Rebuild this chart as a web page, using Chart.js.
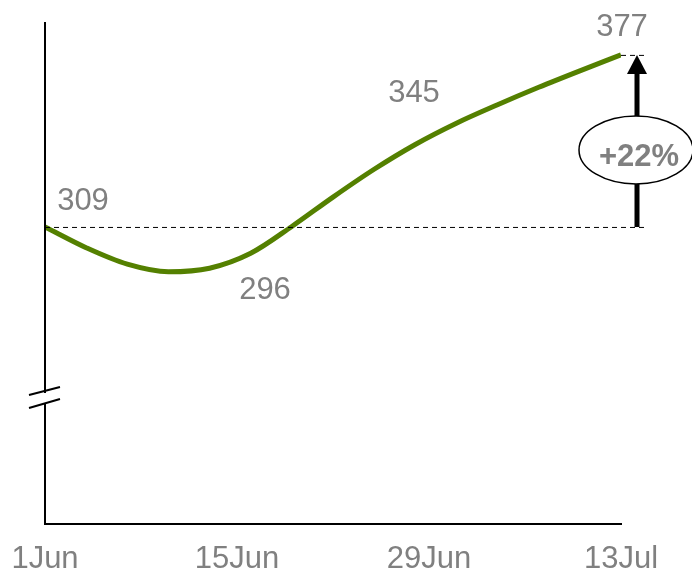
<!DOCTYPE html>
<html>
<head>
<meta charset="utf-8">
<script src="https://cdn.jsdelivr.net/npm/chart.js@4.4.1/dist/chart.umd.min.js"></script>
<style>
    html, body { margin: 0; padding: 0; background: #fff; }
    #wrap { width: 692px; height: 574px; }
</style>
</head>
<body>
<div id="wrap"><canvas id="lineChart" width="692" height="574"></canvas></div>
<script>
// days since 1 Jun and the value
const days   = [0, 3, 6, 9, 12, 15, 18, 21, 24, 27, 30, 33, 36, 39, 42];
const values = [309, 300.8, 294.3, 291.3, 292.7, 298.6, 309.2, 320.8, 331.8, 341.6, 350, 357.3, 364.2, 370.7, 377];

// tick labels on the x axis (every 14 days)
const tickDays   = [0, 14, 28, 42];
const tickLabels = ['1Jun', '15Jun', '29Jun', '13Jul'];

// labelled values
const labelDays   = [0, 14, 28, 42];
const labelValues = [309, 296, 345, 377];

const fontFamily = "'Liberation Sans', Arial, sans-serif";
const grey = '#808080';

// placement of each value label relative to its point (px)
const labelShift = [[38, -25], [28, 31], [-15, -42], [1, -27]];

const decorPlugin = {
    id: 'decor',
    afterDatasetsDraw(chart) {
        const ctx = chart.ctx;
        const xs = chart.scales.x, ys = chart.scales.y;
        const area = chart.chartArea;
        const startV = values[0], endV = values[values.length - 1];
        const yStart = ys.getPixelForValue(startV);
        const yEnd = ys.getPixelForValue(endV);
        const xEnd = xs.getPixelForValue(days[days.length - 1]);
        const arrowX = xEnd + 16;

        ctx.save();

        // y axis with a break
        ctx.strokeStyle = '#000';
        ctx.lineWidth = 2;
        ctx.beginPath();
        ctx.moveTo(area.left, area.top);
        ctx.lineTo(area.left, 393);
        ctx.moveTo(area.left, 404);
        ctx.lineTo(area.left, area.bottom);
        ctx.stroke();
        ctx.beginPath();
        ctx.moveTo(29, 395); ctx.lineTo(60, 387);
        ctx.moveTo(29, 408); ctx.lineTo(60, 399);
        ctx.stroke();

        // dashed reference lines
        ctx.lineWidth = 1;
        ctx.setLineDash([5, 4]);
        ctx.beginPath();
        ctx.moveTo(area.left, yStart + 0.5);
        ctx.lineTo(arrowX + 10, yStart + 0.5);
        ctx.moveTo(xEnd, yEnd + 0.5);
        ctx.lineTo(arrowX + 10, yEnd + 0.5);
        ctx.stroke();
        ctx.setLineDash([]);

        // arrow
        ctx.lineWidth = 5;
        ctx.beginPath();
        ctx.moveTo(arrowX, yStart);
        ctx.lineTo(arrowX, yEnd + 15);
        ctx.stroke();
        ctx.fillStyle = '#000';
        ctx.beginPath();
        ctx.moveTo(arrowX, yEnd);
        ctx.lineTo(arrowX - 10, yEnd + 19);
        ctx.lineTo(arrowX + 10, yEnd + 19);
        ctx.closePath();
        ctx.fill();

        // ellipse with percentage
        const cy = (yStart + yEnd) / 2 + 9;
        ctx.beginPath();
        ctx.ellipse(arrowX - 1, cy, 57, 34, 0, 0, Math.PI * 2);
        ctx.fillStyle = '#fff';
        ctx.fill();
        ctx.lineWidth = 1.5;
        ctx.stroke();
        const pct = Math.round((endV / startV - 1) * 100);
        ctx.fillStyle = grey;
        ctx.font = 'bold 31px ' + fontFamily;
        ctx.textAlign = 'center';
        ctx.textBaseline = 'middle';
        ctx.fillText('+' + pct + '%', arrowX + 2, cy + 8);

        // value labels
        ctx.font = '31px ' + fontFamily;
        labelDays.forEach(function(d, i) {
            const px = xs.getPixelForValue(d) + labelShift[i][0];
            const py = ys.getPixelForValue(labelValues[i]) + labelShift[i][1];
            ctx.fillText(String(labelValues[i]), px, py);
        });

        ctx.restore();
    }
};

const ctx = document.getElementById('lineChart').getContext('2d');
new Chart(ctx, {
    type: 'line',
    data: {
        datasets: [{
            data: days.map(function(d, i) { return { x: d, y: values[i] }; }),
            borderColor: '#548000',
            borderWidth: 5,
            pointRadius: 0,
            fill: false,
            cubicInterpolationMode: 'monotone'
        }]
    },
    options: {
        responsive: false,
        animation: false,
        layout: { padding: { left: 45, right: 71, top: 22, bottom: 0 } },
        plugins: {
            legend: { display: false },
            tooltip: { enabled: false }
        },
        scales: {
            x: {
                type: 'linear',
                min: 0,
                max: 42,
                afterBuildTicks: function(axis) {
                    axis.ticks = tickDays.map(function(v) { return { value: v }; });
                },
                afterFit: function(axis) {
                    axis.height = 50;
                    axis.paddingLeft = 0;
                    axis.paddingRight = 0;
                },
                grid: { display: false, drawTicks: false },
                border: { display: true, color: '#000', width: 2 },
                ticks: {
                    color: grey,
                    font: { family: fontFamily, size: 31 },
                    padding: 17,
                    maxRotation: 0,
                    autoSkip: false,
                    callback: function(value) {
                        const i = tickDays.indexOf(value);
                        return i >= 0 ? tickLabels[i] : '';
                    }
                }
            },
            y: {
                display: false,
                min: 191.6,
                max: 390
            }
        }
    },
    plugins: [decorPlugin]
});
</script>
</body>
</html>
